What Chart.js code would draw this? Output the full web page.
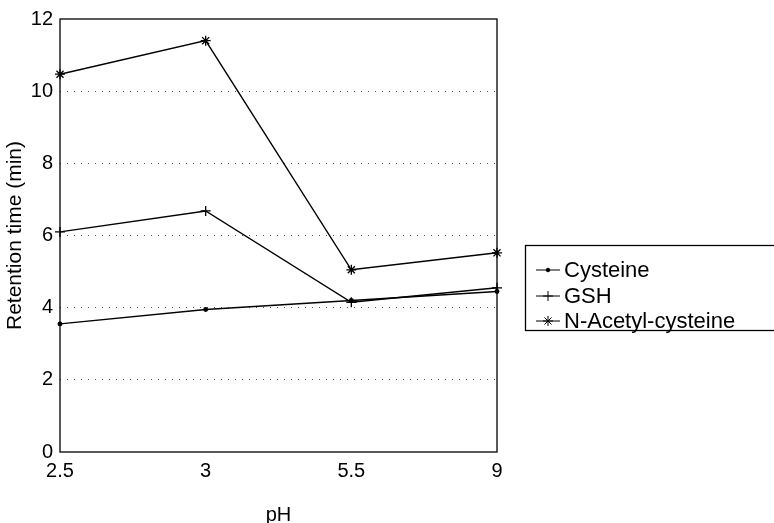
<!DOCTYPE html>
<html>
<head>
<meta charset="utf-8">
<script src="https://cdn.jsdelivr.net/npm/chart.js@4"></script>
<style>
  html, body { margin: 0; padding: 0; background: #fff; }
  #wrap { width: 774px; height: 523px; position: relative; }
</style>
</head>
<body>
<div id="wrap"><canvas id="chart" width="774" height="523"></canvas></div>
<script>
const phLabels = ['2.5', '3', '5.5', '9'];
const cysteine = [3.55, 3.95, 4.2, 4.45];
const gsh = [6.1, 6.68, 4.15, 4.55];
const nac = [10.47, 11.4, 5.05, 5.52];

const FONT = "'Liberation Sans', Arial, sans-serif";

// frame around plot + legend box on the right
const framePlugin = {
  id: 'frame',
  afterDraw(chart) {
    const { ctx, chartArea: a } = chart;
    ctx.save();
    ctx.strokeStyle = '#000';
    ctx.lineWidth = 1.3;
    ctx.setLineDash([]);
    ctx.strokeRect(a.left, a.top, a.right - a.left, a.bottom - a.top);

    ctx.strokeRect(525.5, 245.5, 270, 85);
    ctx.font = '22px ' + FONT;
    ctx.fillStyle = '#000';
    ctx.textBaseline = 'middle';
    const rows = [270, 296, 321];
    chart.data.datasets.forEach((ds, i) => {
      const y = rows[i];
      ctx.beginPath();
      ctx.moveTo(536, y);
      ctx.lineTo(560, y);
      ctx.lineWidth = 1;
      ctx.stroke();
      Chart.helpers.drawPoint(ctx, { pointStyle: ds.pointStyle, radius: ds.pointRadius, borderWidth: 1 }, 548, y);
      ctx.fillText(ds.label, 564, y + 1);
    });
    ctx.restore();
  }
};

new Chart(document.getElementById('chart'), {
  type: 'line',
  data: {
    labels: phLabels,
    datasets: [
      { label: 'Cysteine', data: cysteine, pointStyle: 'circle', pointRadius: 1.8 },
      { label: 'GSH', data: gsh, pointStyle: 'cross', pointRadius: 5 },
      { label: 'N-Acetyl-cysteine', data: nac, pointStyle: 'star', pointRadius: 5 }
    ].map((d) => ({ ...d, borderColor: '#000', backgroundColor: '#000', borderWidth: 1.4, pointBorderWidth: 1.3, tension: 0 }))
  },
  options: {
    responsive: false,
    animation: false,
    layout: { padding: { top: 19, right: 277, left: 0, bottom: 0 } },
    plugins: { legend: { display: false }, tooltip: { enabled: false } },
    scales: {
      x: {
        offset: false,
        grid: { display: false, drawTicks: false },
        border: { display: false },
        ticks: { color: '#000', font: { family: FONT, size: 20 }, padding: 7, maxRotation: 0 },
        title: { display: true, text: 'pH', color: '#000', font: { family: FONT, size: 20, lineHeight: 0.8 }, padding: { top: 0, bottom: 0 } },
        afterFit: (s) => { s.height = 71; }
      },
      y: {
        min: 0,
        max: 12,
        grid: {
          drawTicks: false,
          color: (c) => (c.tick.value === 0 || c.tick.value === 12 ? 'rgba(0,0,0,0)' : '#555'),
          lineWidth: 1
        },
        border: { display: false, dash: [1, 6] },
        ticks: { stepSize: 2, color: '#000', font: { family: FONT, size: 20 }, padding: 7 },
        title: { display: true, text: 'Retention time (min)', color: '#000', font: { family: FONT, size: 21 }, padding: { top: 3, bottom: 0 } },
        afterFit: (s) => { s.width = 60; }
      }
    }
  },
  plugins: [framePlugin]
});
</script>
</body>
</html>
